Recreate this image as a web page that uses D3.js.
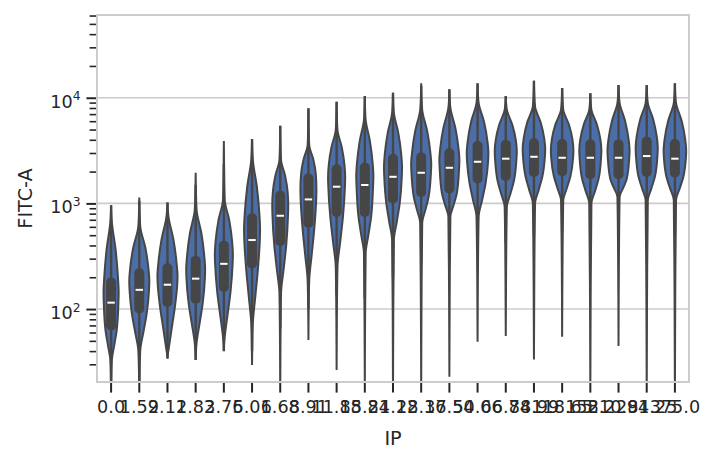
<!DOCTYPE html>
<html>
<head>
<meta charset="utf-8">
<script src="https://cdn.jsdelivr.net/npm/d3@7"></script>
<style>
  body { margin: 0; background: #fff; }
  text { font-family: "DejaVu Sans", sans-serif; fill: #262626; }
</style>
</head>
<body>
<script>
// IP categories (x axis)
const ipLabels = ["0.0", "1.59", "2.11", "2.82", "3.76", "5.01", "6.68", "8.91", "11.88", "15.84", "21.12",
                  "28.16", "37.54", "50.06", "66.74", "88.99", "118.65", "158.2", "210.94", "281.25", "375.0"];

// FITC-A distribution
const tops     = [960, 1140, 1020, 1950, 3890, 4060, 5430, 7940, 9160, 10380, 11150, 13680, 12020, 13680, 10380, 14490, 12360, 11010, 13180, 13180, 13680];
const upNecks  = [666, 601, 748, 865, 1077, 2570, 2570, 3560, 4940, 6150, 7160, 7660, 8000, 8910, 7660, 8230, 7660, 7660, 8910, 8910, 8910];
const q3s      = [198, 243, 271, 318, 443, 805, 1318, 1923, 2344, 2427, 2930, 3040, 3320, 3890, 3980, 4130, 4060, 4035, 4035, 4277, 4060];
const medians  = [115, 152, 170, 194, 268, 450, 764, 1091, 1439, 1493, 1786, 1950, 2173, 2478, 2650, 2762, 2704, 2704, 2704, 2806, 2650];
const q1s      = [63, 91, 105, 113, 146, 243, 397, 589, 748, 748, 1000, 1157, 1245, 1549, 1637, 1786, 1815, 1698, 1698, 1786, 1766];
const loNecks  = [33, 41, 41, 48, 55, 74, 142, 188, 251, 339, 450, 652, 748, 748, 929, 1007, 1077, 1007, 1157, 1077, 1077];
const bottoms  = [15, 15, 34, 33, 40, 29.5, 15, 51, 26.5, 15, 15, 15, 22.9, 49, 55.5, 33.4, 54.7, 15, 44.7, 15, 15];
const peakWidths = [0.67, 0.89, 0.89, 0.84, 0.80, 0.71, 0.71, 0.71, 0.76, 0.76, 0.80, 0.89, 0.89, 0.96, 0.98, 1.0, 1.0, 0.98, 0.98, 0.98, 1.0];

const yMajor = [100, 1000, 10000];
const yMinor = [30, 40, 50, 60, 70, 80, 90, 200, 300, 400, 500, 600, 700, 800, 900,
                2000, 3000, 4000, 5000, 6000, 7000, 8000, 9000, 20000, 30000, 40000, 50000, 60000];

const width = 706, height = 465;
const margin = {top: 15, right: 17, bottom: 83, left: 97};
const w = width - margin.left - margin.right;
const h = height - margin.top - margin.bottom;

const svg = d3.select("body").append("svg")
  .attr("width", width)
  .attr("height", height);

const g = svg.append("g")
  .attr("transform", "translate(" + margin.left + "," + margin.top + ")");

const x = d3.scaleBand().domain(ipLabels).range([0, w]).padding(0);
const y = d3.scaleLog().domain([20.4, 60700]).range([h, 0]);

const lineGray = "#464646";
const violinBlue = "#4b6ea9";

// grid
g.selectAll(".grid")
  .data(yMajor)
  .enter()
  .append("line")
  .attr("x1", 0).attr("x2", w)
  .attr("y1", d => y(d)).attr("y2", d => y(d))
  .attr("stroke", "#cccccc")
  .attr("stroke-width", 1.6);

svg.append("clipPath").attr("id", "plotclip")
  .append("rect").attr("width", w).attr("height", h);

const plot = g.append("g").attr("clip-path", "url(#plotclip)");

const L = v => Math.log10(v);
function profile(i) {
  const med = L(medians[i]), q3 = L(q3s[i]), q1 = L(q1s[i]);
  const up = L(upNecks[i]), lo = L(loNecks[i]);
  const top = L(tops[i]), bot = L(bottoms[i]);
  return [
    [bot, 0],
    [lo - 0.5 * (lo - bot), 0.03],
    [lo, 0.1],
    [(lo + q1) / 2, 0.42],
    [q1, 0.74],
    [med, 0.97],
    [med + 0.4 * (q3 - med), 1],
    [q3, 0.91],
    [(q3 + up) / 2, 0.6],
    [up, 0.1],
    [up + 0.5 * (top - up), 0.03],
    [top, 0]
  ];
}

const halfMax = x.bandwidth() * 0.8 / 2;

ipLabels.forEach((lab, i) => {
  const cx = x(lab) + x.bandwidth() / 2;
  const hw = halfMax * peakWidths[i];
  const area = d3.area()
    .y(d => y(Math.pow(10, d[0])))
    .x0(d => cx - d[1] * hw)
    .x1(d => cx + d[1] * hw)
    .curve(d3.curveMonotoneY);

  plot.append("path")
    .datum(profile(i))
    .attr("d", area)
    .attr("fill", violinBlue)
    .attr("stroke", lineGray)
    .attr("stroke-width", 2);

  // whiskers (1.5 IQR in log space)
  const iqr = L(q3s[i]) - L(q1s[i]);
  const wLo = Math.max(L(bottoms[i]), L(q1s[i]) - 1.5 * iqr);
  const wHi = Math.min(L(tops[i]), L(q3s[i]) + 1.5 * iqr);
  plot.append("line")
    .attr("x1", cx).attr("x2", cx)
    .attr("y1", y(Math.pow(10, wLo))).attr("y2", y(Math.pow(10, wHi)))
    .attr("stroke", lineGray)
    .attr("stroke-width", 2.4);

  // box
  plot.append("rect")
    .attr("x", cx - 5)
    .attr("width", 10)
    .attr("y", y(q3s[i]))
    .attr("height", y(q1s[i]) - y(q3s[i]))
    .attr("rx", 4.5)
    .attr("fill", lineGray);

  // median
  plot.append("line")
    .attr("x1", cx - 3.7).attr("x2", cx + 3.7)
    .attr("y1", y(medians[i])).attr("y2", y(medians[i]))
    .attr("stroke", "#fff")
    .attr("stroke-width", 2);
});

// spines
g.append("rect")
  .attr("width", w).attr("height", h)
  .attr("fill", "none")
  .attr("stroke", "#cccccc")
  .attr("stroke-width", 2);

// x axis
const xAxis = g.append("g")
  .attr("transform", "translate(0," + (h + 1) + ")")
  .call(d3.axisBottom(x).tickSize(9.6).tickPadding(8));
xAxis.select(".domain").remove();
xAxis.selectAll(".tick line").attr("stroke", "#262626").attr("stroke-width", 2);
xAxis.selectAll("text").attr("font-size", "17.6px").attr("fill", "#262626");

// y axis minor
const yMinorAxis = g.append("g")
  .attr("transform", "translate(-1,0)")
  .call(d3.axisLeft(y).tickValues(yMinor).tickSize(6.4).tickFormat(""));
yMinorAxis.select(".domain").remove();
yMinorAxis.selectAll(".tick line").attr("stroke", "#262626").attr("stroke-width", 1.6);

// y axis major
const yAxis = g.append("g")
  .attr("transform", "translate(-1,0)")
  .call(d3.axisLeft(y).tickValues(yMajor).tickSize(9.6).tickFormat(""));
yAxis.select(".domain").remove();
yAxis.selectAll(".tick line").attr("stroke", "#262626").attr("stroke-width", 2);
yAxis.selectAll(".tick").each(function(d) {
  const t = d3.select(this).append("text")
    .attr("x", -15.5)
    .attr("y", 9.5)
    .attr("text-anchor", "end")
    .attr("font-size", "17.6px");
  t.append("tspan").text("10");
  t.append("tspan")
    .attr("font-size", "12.3px")
    .attr("dy", -7.5)
    .text(Math.round(Math.log10(d)));
});

// axis labels
svg.append("text")
  .attr("x", margin.left + w / 2)
  .attr("y", 445)
  .attr("text-anchor", "middle")
  .attr("font-size", "19.2px")
  .text("IP");

svg.append("text")
  .attr("transform", "translate(32," + (margin.top + h / 2) + ") rotate(-90)")
  .attr("text-anchor", "middle")
  .attr("font-size", "19.2px")
  .text("FITC-A");
</script>
</body>
</html>
